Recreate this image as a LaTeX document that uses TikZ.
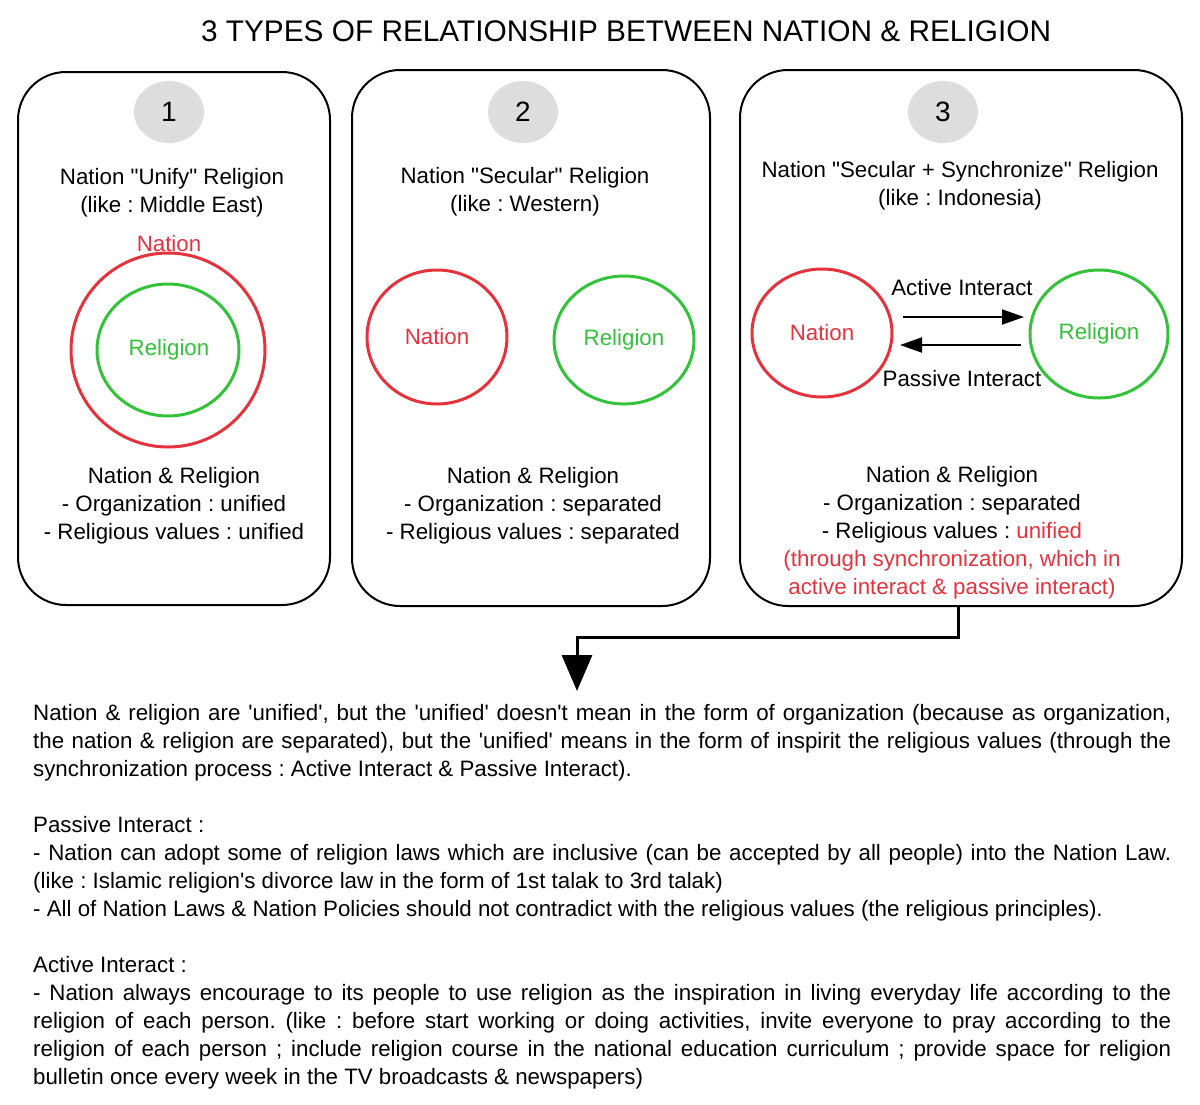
\documentclass[tikz,border=0pt]{standalone}
\usepackage{fontspec}
\setmainfont{Liberation Sans}
\usetikzlibrary{arrows.meta,shapes.geometric}
\definecolor{nred}{HTML}{E4333D}
\definecolor{rgreen}{HTML}{33C23A}
\definecolor{numgray}{HTML}{DDDDDD}
\newcommand\myq{\textquotesingle}
\newcommand\mydq{\textquotedbl}
\frenchspacing
\begin{document}
\begin{tikzpicture}[x=1pt,y=-1pt,
  txt/.style={font=\fontsize{22.3}{28}\selectfont, align=center, inner sep=0pt},
  para/.style={font=\fontsize{22.3}{28}\selectfont, anchor=base west, inner sep=0pt},
  panel/.style={draw=black, line width=2pt, rounded corners=48pt, rectangle},
  numc/.style={ellipse, fill=numgray, minimum width=70pt, minimum height=62pt, inner sep=0pt, font=\fontsize{28}{30}\selectfont},
  redc/.style={ellipse, draw=nred, line width=3pt, inner sep=0pt},
  grnc/.style={ellipse, draw=rgreen, line width=3pt, inner sep=0pt},
  redt/.style={text=nred, font=\fontsize{22.3}{24}\selectfont},
  grnt/.style={text=rgreen, font=\fontsize{22.3}{24}\selectfont},
  arr/.style={line width=2pt, -{Triangle[length=22pt,width=15pt]}}
]
\useasboundingbox[fill=white] (0,0) rectangle (1200,1104);

% title
\node[font=\fontsize{29.8}{32}\selectfont, inner sep=0pt] (title) at (626,31) {3 TYPES OF RELATIONSHIP BETWEEN NATION \& RELIGION};

% panels
\node[panel, minimum width=312pt, minimum height=533pt] (box1) at (174,338.5) {};
\node[panel, minimum width=358pt, minimum height=536pt] (box2) at (531,338) {};
\node[panel, minimum width=442pt, minimum height=536pt] (box3) at (961,338) {};

% numbers
\node[numc] (n1) at (169,112) {1};
\node[numc] (n2) at (523,112) {2};
\node[numc] (n3) at (943,112) {3};

% panel 1
\node[txt] (t1) at (172,193) {Nation \mydq Unify\mydq{} Religion\\(like : Middle East)};
\node[redt] (l1) at (169,244) {Nation};
\node[redc, minimum width=194pt, minimum height=194pt] (c1n) at (168,350) {};
\node[grnc, minimum width=142pt, minimum height=132pt] (c1r) at (168,350) {};
\node[grnt] (l1r) at (169,350) {Religion};
\node[txt] (b1) at (174,506) {Nation \& Religion\\- Organization : unified\\- Religious values : unified};

% panel 2
\node[txt] (t2) at (525,192) {Nation \mydq Secular\mydq{} Religion\\(like : Western)};
\node[redc, minimum width=140pt, minimum height=134pt, redt] (c2n) at (437,337) {Nation};
\node[grnc, minimum width=140pt, minimum height=128pt, grnt] (c2r) at (624,340) {Religion};
\node[txt] (b2) at (533,506) {Nation \& Religion\\- Organization : separated\\- Religious values : separated};

% panel 3
\node[txt] (t3) at (960,186) {Nation \mydq Secular + Synchronize\mydq{} Religion\\(like : Indonesia)};
\node[redc, minimum width=140pt, minimum height=128pt, redt] (c3n) at (822,333) {Nation};
\node[grnc, minimum width=138pt, minimum height=128pt, grnt] (c3r) at (1099,334) {Religion};
\node[txt] (ai) at (962,288) {Active Interact};
\node[txt] (pi) at (962,379) {Passive Interact};
\coordinate (a1s) at (903,317);
\coordinate (a1e) at (1024,317);
\coordinate (a2s) at (1021,345);
\coordinate (a2e) at (900,345);
\draw[arr] (a1s) -- (a1e);
\draw[arr] (a2s) -- (a2e);
\node[txt] (b3) at (952,533) {Nation \& Religion\\- Organization : separated\\- Religious values : \textcolor{nred}{unified}\\\textcolor{nred}{(through synchronization, which in}\\\textcolor{nred}{active interact \& passive interact)}};

% connector
\coordinate (bend) at (958,637);
\coordinate (tgt) at (577,691);
\draw[line width=3pt, -{Triangle[length=36pt,width=30pt]}] (box3.south -| bend) -- (bend) -| (tgt);

% paragraph
\node[para] (p1) at (33,720) {\makebox[1138pt][s]{Nation \& religion are \myq unified\myq, but the \myq unified\myq{} doesn\myq t mean in the form of organization (because as organization,}};
\node[para] (p2) at (33,748) {\makebox[1138pt][s]{the nation \& religion are separated), but the \myq unified\myq{} means in the form of inspirit the religious values (through the}};
\node[para] (p3) at (33,776) {synchronization process : Active Interact \& Passive Interact).};
\node[para] (p4) at (33,832) {Passive Interact :};
\node[para] (p5) at (33,860) {\makebox[1138pt][s]{- Nation can adopt some of religion laws which are inclusive (can be accepted by all people) into the Nation Law.}};
\node[para] (p6) at (33,888) {(like : Islamic religion\myq s divorce law in the form of 1st talak to 3rd talak)};
\node[para] (p7) at (33,916) {- All of Nation Laws \& Nation Policies should not contradict with the religious values (the religious principles).};
\node[para] (p8) at (33,972) {Active Interact :};
\node[para] (p9) at (33,1000) {\makebox[1138pt][s]{- Nation always encourage to its people to use religion as the inspiration in living everyday life according to the}};
\node[para] (p10) at (33,1028) {\makebox[1138pt][s]{religion of each person. (like : before start working or doing activities, invite everyone to pray according to the}};
\node[para] (p11) at (33,1056) {\makebox[1138pt][s]{religion of each person ; include religion course in the national education curriculum ; provide space for religion}};
\node[para] (p12) at (33,1084) {bulletin once every week in the TV broadcasts \& newspapers)};
\end{tikzpicture}
\end{document}
